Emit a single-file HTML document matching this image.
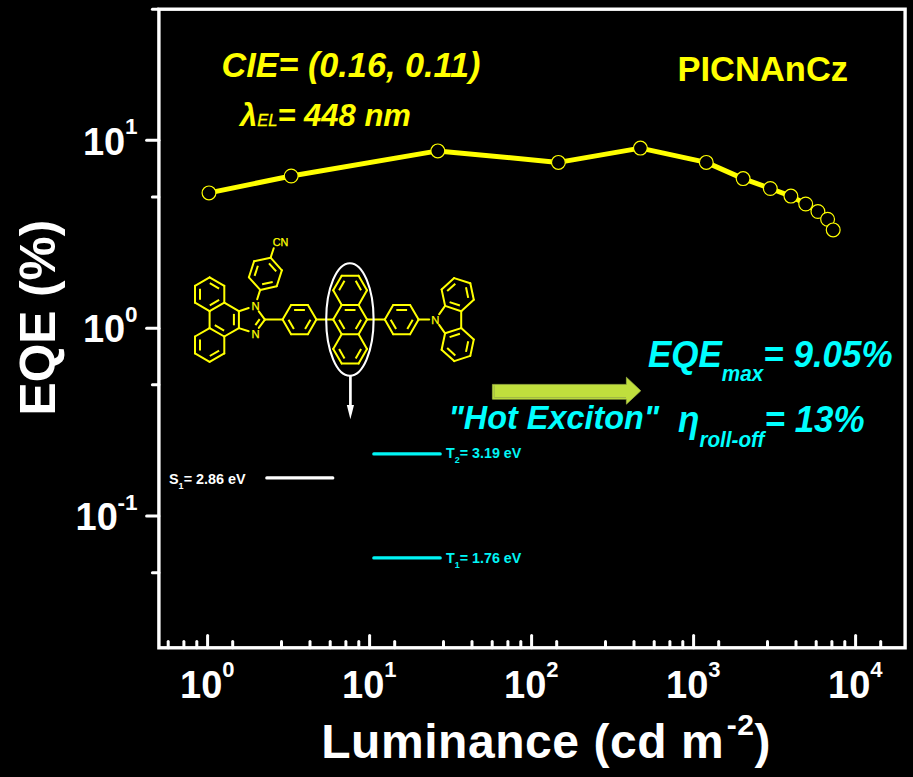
<!DOCTYPE html>
<html><head><meta charset="utf-8"><title>EQE vs Luminance</title>
<style>
html,body{margin:0;padding:0;background:#000;}
body{width:913px;height:777px;overflow:hidden;}
svg{display:block;font-family:"Liberation Sans",Arial,sans-serif;font-weight:bold;}
</style></head><body>
<svg width="913" height="777" viewBox="0 0 913 777">
<rect width="913" height="777" fill="#000"/>
<g stroke="#fff" stroke-width="3.4" fill="none" stroke-linecap="butt">
<rect x="158.9" y="9.2" width="746.2" height="638.5999999999999"/>
</g>
<g stroke="#fff" stroke-width="3" stroke-linecap="round"><line x1="168.2" y1="647.8" x2="168.2" y2="641.4"/><line x1="183.9" y1="647.8" x2="183.9" y2="641.4"/><line x1="196.8" y1="647.8" x2="196.8" y2="641.4"/><line x1="207.6" y1="647.8" x2="207.6" y2="635.4"/><line x1="232.7" y1="647.8" x2="232.7" y2="641.4"/><line x1="281.5" y1="647.8" x2="281.5" y2="641.4"/><line x1="310.0" y1="647.8" x2="310.0" y2="641.4"/><line x1="330.2" y1="647.8" x2="330.2" y2="641.4"/><line x1="345.9" y1="647.8" x2="345.9" y2="641.4"/><line x1="358.8" y1="647.8" x2="358.8" y2="641.4"/><line x1="369.6" y1="647.8" x2="369.6" y2="635.4"/><line x1="394.7" y1="647.8" x2="394.7" y2="641.4"/><line x1="443.5" y1="647.8" x2="443.5" y2="641.4"/><line x1="472.0" y1="647.8" x2="472.0" y2="641.4"/><line x1="492.2" y1="647.8" x2="492.2" y2="641.4"/><line x1="507.9" y1="647.8" x2="507.9" y2="641.4"/><line x1="520.8" y1="647.8" x2="520.8" y2="641.4"/><line x1="531.6" y1="647.8" x2="531.6" y2="635.4"/><line x1="556.7" y1="647.8" x2="556.7" y2="641.4"/><line x1="605.5" y1="647.8" x2="605.5" y2="641.4"/><line x1="634.0" y1="647.8" x2="634.0" y2="641.4"/><line x1="654.2" y1="647.8" x2="654.2" y2="641.4"/><line x1="669.9" y1="647.8" x2="669.9" y2="641.4"/><line x1="682.8" y1="647.8" x2="682.8" y2="641.4"/><line x1="693.6" y1="647.8" x2="693.6" y2="635.4"/><line x1="718.7" y1="647.8" x2="718.7" y2="641.4"/><line x1="767.5" y1="647.8" x2="767.5" y2="641.4"/><line x1="796.0" y1="647.8" x2="796.0" y2="641.4"/><line x1="816.2" y1="647.8" x2="816.2" y2="641.4"/><line x1="831.9" y1="647.8" x2="831.9" y2="641.4"/><line x1="844.8" y1="647.8" x2="844.8" y2="641.4"/><line x1="855.6" y1="647.8" x2="855.6" y2="635.4"/><line x1="880.7" y1="647.8" x2="880.7" y2="641.4"/><line x1="158.9" y1="9.2" x2="152.4" y2="9.2"/><line x1="158.9" y1="140.3" x2="146.6" y2="140.3"/><line x1="158.9" y1="196.9" x2="152.4" y2="196.9"/><line x1="158.9" y1="328.2" x2="146.6" y2="328.2"/><line x1="158.9" y1="384.8" x2="152.4" y2="384.8"/><line x1="158.9" y1="516.1" x2="146.6" y2="516.1"/><line x1="158.9" y1="572.7" x2="152.4" y2="572.7"/></g>
<g fill="#fff"><text x="222.4" y="697.8" font-size="38" text-anchor="end">10</text><text x="222.2" y="677.2" font-size="22">0</text><text x="384.4" y="697.8" font-size="38" text-anchor="end">10</text><text x="384.2" y="677.2" font-size="22">1</text><text x="546.4" y="697.8" font-size="38" text-anchor="end">10</text><text x="546.2" y="677.2" font-size="22">2</text><text x="708.4" y="697.8" font-size="38" text-anchor="end">10</text><text x="708.2" y="677.2" font-size="22">3</text><text x="870.4" y="697.8" font-size="38" text-anchor="end">10</text><text x="870.2" y="677.2" font-size="22">4</text><text x="125.2" y="154.5" font-size="38" text-anchor="end">10</text><text x="125.0" y="134.0" font-size="22.5">1</text><text x="125.2" y="342.4" font-size="38" text-anchor="end">10</text><text x="125.0" y="321.9" font-size="22.5">0</text><text x="117.8" y="530.4" font-size="38" text-anchor="end">10</text><text x="117.6" y="509.8" font-size="22.5">-1</text></g>
<text x="321.2" y="758.4" font-size="48" fill="#fff" letter-spacing="0.55">Luminance (cd m<tspan font-size="30" dy="-23.5" dx="2.5">-2</tspan><tspan dy="23.5" dx="0">)</tspan></text>
<text transform="translate(54.8,317.6) rotate(-90)" font-size="49.6" fill="#fff" text-anchor="middle">EQE (%)</text>
<polyline points="209,192.9 291.2,176 437.8,150.9 558.4,162.4 640.4,148.1 706.3,162.4 743.1,178.6 770.3,188.5 790.9,196.1 805.7,204 817.9,211.5 827.6,219.2 833.2,229.9" fill="none" stroke="#ffff00" stroke-width="5" stroke-linejoin="round"/>
<g fill="#000" stroke="#ffff00" stroke-width="1.2"><circle cx="209" cy="192.9" r="6.9"/><circle cx="291.2" cy="176" r="6.9"/><circle cx="437.8" cy="150.9" r="6.9"/><circle cx="558.4" cy="162.4" r="6.9"/><circle cx="640.4" cy="148.1" r="6.9"/><circle cx="706.3" cy="162.4" r="6.9"/><circle cx="743.1" cy="178.6" r="6.9"/><circle cx="770.3" cy="188.5" r="6.9"/><circle cx="790.9" cy="196.1" r="6.9"/><circle cx="805.7" cy="204" r="6.9"/><circle cx="817.9" cy="211.5" r="6.9"/><circle cx="827.6" cy="219.2" r="6.9"/><circle cx="833.2" cy="229.9" r="6.9"/></g>
<g fill="#ffff00" font-style="italic">
<text x="221.5" y="77" font-size="34.2" transform="matrix(1 0 0 1.035 0 -2.695)">CIE= (0.16, 0.11)</text>
<text x="240" y="126.2" font-size="31" transform="matrix(1 0 0 1.02 0 -2.524)">λ<tspan font-size="16.5" font-weight="normal" stroke="#ffff00" stroke-width="0.3">EL</tspan>= 448 nm</text>
</g>
<text x="677.5" y="80.8" font-size="34.5" fill="#ffff00">PICNAnCz</text>
<g stroke="#ffff00" stroke-width="2" stroke-linecap="round"><line x1="264.9" y1="319.6" x2="258.8" y2="311.3"/><line x1="248.7" y1="308.0" x2="238.9" y2="311.2"/><line x1="238.9" y1="311.2" x2="238.9" y2="328.1"/><line x1="238.9" y1="328.1" x2="248.7" y2="331.2"/><line x1="258.8" y1="327.9" x2="264.9" y2="319.6"/><line x1="238.9" y1="311.2" x2="224.3" y2="302.7"/><line x1="224.3" y1="302.7" x2="209.6" y2="311.2"/><line x1="209.6" y1="311.2" x2="209.6" y2="328.1"/><line x1="209.6" y1="328.1" x2="224.3" y2="336.5"/><line x1="224.3" y1="336.5" x2="238.9" y2="328.1"/><line x1="209.6" y1="277.4" x2="195.0" y2="285.8"/><line x1="195.0" y1="285.8" x2="195.0" y2="302.7"/><line x1="195.0" y1="302.7" x2="209.6" y2="311.2"/><line x1="224.3" y1="302.7" x2="224.3" y2="285.8"/><line x1="224.3" y1="285.8" x2="209.6" y2="277.4"/><line x1="209.6" y1="328.1" x2="195.0" y2="336.5"/><line x1="195.0" y1="336.5" x2="195.0" y2="353.4"/><line x1="195.0" y1="353.4" x2="209.6" y2="361.8"/><line x1="209.6" y1="361.8" x2="224.3" y2="353.4"/><line x1="224.3" y1="353.4" x2="224.3" y2="336.5"/><line x1="257.2" y1="299.2" x2="260.2" y2="289.9"/><line x1="260.2" y1="289.9" x2="276.7" y2="286.3"/><line x1="276.7" y1="286.3" x2="281.9" y2="270.3"/><line x1="281.9" y1="270.3" x2="270.6" y2="257.7"/><line x1="270.6" y1="257.7" x2="254.1" y2="261.2"/><line x1="254.1" y1="261.2" x2="248.9" y2="277.3"/><line x1="248.9" y1="277.3" x2="260.2" y2="289.9"/><line x1="270.6" y1="257.7" x2="273.7" y2="248.3"/><line x1="316.4" y1="319.6" x2="307.9" y2="305.0"/><line x1="307.9" y1="305.0" x2="291.1" y2="305.0"/><line x1="291.1" y1="305.0" x2="282.6" y2="319.6"/><line x1="282.6" y1="319.6" x2="291.1" y2="334.2"/><line x1="291.1" y1="334.2" x2="307.9" y2="334.2"/><line x1="307.9" y1="334.2" x2="316.4" y2="319.6"/><line x1="264.9" y1="319.6" x2="282.6" y2="319.6"/><line x1="367.0" y1="319.6" x2="358.6" y2="305.0"/><line x1="358.6" y1="305.0" x2="341.7" y2="305.0"/><line x1="341.7" y1="305.0" x2="333.2" y2="319.6"/><line x1="333.2" y1="319.6" x2="341.7" y2="334.2"/><line x1="341.7" y1="334.2" x2="358.6" y2="334.2"/><line x1="358.6" y1="334.2" x2="367.0" y2="319.6"/><line x1="316.4" y1="319.6" x2="333.2" y2="319.6"/><line x1="367.0" y1="290.3" x2="358.6" y2="275.7"/><line x1="358.6" y1="275.7" x2="341.7" y2="275.7"/><line x1="341.7" y1="275.7" x2="333.2" y2="290.3"/><line x1="333.2" y1="290.3" x2="341.7" y2="305.0"/><line x1="358.6" y1="305.0" x2="367.0" y2="290.3"/><line x1="367.0" y1="348.9" x2="358.6" y2="334.2"/><line x1="341.7" y1="334.2" x2="333.2" y2="348.9"/><line x1="333.2" y1="348.9" x2="341.7" y2="363.5"/><line x1="341.7" y1="363.5" x2="358.6" y2="363.5"/><line x1="358.6" y1="363.5" x2="367.0" y2="348.9"/><line x1="418.6" y1="319.6" x2="410.1" y2="305.0"/><line x1="410.1" y1="305.0" x2="393.2" y2="305.0"/><line x1="393.2" y1="305.0" x2="384.8" y2="319.6"/><line x1="384.8" y1="319.6" x2="393.2" y2="334.2"/><line x1="393.2" y1="334.2" x2="410.1" y2="334.2"/><line x1="410.1" y1="334.2" x2="418.6" y2="319.6"/><line x1="367.0" y1="319.6" x2="384.8" y2="319.6"/><line x1="418.6" y1="319.6" x2="429.2" y2="319.6"/><line x1="439.1" y1="324.9" x2="445.1" y2="333.3"/><line x1="445.1" y1="333.3" x2="461.2" y2="328.1"/><line x1="461.2" y1="328.1" x2="461.2" y2="311.2"/><line x1="461.2" y1="311.2" x2="445.1" y2="305.9"/><line x1="445.1" y1="305.9" x2="439.1" y2="314.3"/><line x1="461.2" y1="311.2" x2="473.8" y2="299.8"/><line x1="473.8" y1="299.8" x2="470.3" y2="283.3"/><line x1="470.3" y1="283.3" x2="454.2" y2="278.1"/><line x1="454.2" y1="278.1" x2="441.6" y2="289.4"/><line x1="441.6" y1="289.4" x2="445.1" y2="305.9"/><line x1="461.2" y1="328.1" x2="473.8" y2="339.4"/><line x1="473.8" y1="339.4" x2="470.3" y2="355.9"/><line x1="470.3" y1="355.9" x2="454.2" y2="361.1"/><line x1="454.2" y1="361.1" x2="441.6" y2="349.8"/><line x1="441.6" y1="349.8" x2="445.1" y2="333.3"/></g>
<g stroke="#ffff00" stroke-width="2" stroke-linecap="butt"><line x1="255.4" y1="325.2" x2="259.7" y2="319.2"/><line x1="233.9" y1="325.3" x2="233.9" y2="313.9"/><line x1="200.0" y1="288.8" x2="200.0" y2="299.7"/><line x1="219.1" y1="288.6" x2="209.8" y2="283.2"/><line x1="209.8" y1="305.3" x2="219.1" y2="299.9"/><line x1="200.0" y1="339.5" x2="200.0" y2="350.4"/><line x1="209.8" y1="356.0" x2="219.1" y2="350.6"/><line x1="224.1" y1="330.6" x2="214.8" y2="325.2"/><line x1="262.1" y1="284.3" x2="272.7" y2="282.1"/><line x1="276.2" y1="271.4" x2="269.0" y2="263.3"/><line x1="257.9" y1="265.7" x2="254.6" y2="275.9"/><line x1="304.9" y1="310.0" x2="294.1" y2="310.0"/><line x1="288.5" y1="319.7" x2="293.9" y2="329.1"/><line x1="305.1" y1="329.1" x2="310.5" y2="319.7"/><line x1="355.5" y1="310.0" x2="344.7" y2="310.0"/><line x1="339.1" y1="319.7" x2="344.5" y2="329.1"/><line x1="355.7" y1="329.1" x2="361.1" y2="319.7"/><line x1="361.1" y1="290.2" x2="355.7" y2="280.8"/><line x1="344.5" y1="280.8" x2="339.1" y2="290.2"/><line x1="339.1" y1="349.0" x2="344.5" y2="358.4"/><line x1="355.7" y1="358.4" x2="361.1" y2="349.0"/><line x1="407.1" y1="310.0" x2="396.3" y2="310.0"/><line x1="390.7" y1="319.7" x2="396.1" y2="329.1"/><line x1="407.3" y1="329.1" x2="412.7" y2="319.7"/><line x1="449.6" y1="302.1" x2="459.9" y2="305.5"/><line x1="468.2" y1="297.9" x2="466.0" y2="287.3"/><line x1="455.3" y1="283.8" x2="447.2" y2="291.1"/><line x1="449.6" y1="337.1" x2="459.9" y2="333.7"/><line x1="468.2" y1="341.3" x2="466.0" y2="351.9"/><line x1="455.3" y1="355.4" x2="447.2" y2="348.1"/></g>
<g fill="#ffff00" stroke="#ffff00" stroke-width="0.25" font-weight="normal"><text x="255.6" y="310.2" font-size="11.2" text-anchor="middle">N</text><text x="255.6" y="337.8" font-size="11.2" text-anchor="middle">N</text><text x="435.2" y="323.8" font-size="11.2" text-anchor="middle">N</text><text x="280.5" y="245.8" font-size="10.8" text-anchor="middle">CN</text></g>
<ellipse cx="349.9" cy="319.5" rx="23.7" ry="56.3" fill="none" stroke="#fff" stroke-width="2.1"/>
<line x1="350.4" y1="376" x2="350.4" y2="408" stroke="#fff" stroke-width="2.7"/>
<polygon points="346.8,405 354,405 350.4,419.2" fill="#fff"/>
<polygon points="492.4,384.4 626.4,384.4 626.4,377.2 640.8,390.8 626.4,404.2 626.4,399.2 492.4,399.2" fill="#c0df3d" stroke="#a0b848" stroke-width="0.7"/><polyline points="494.2,385.5 494.2,397.5 626,397.5" fill="none" stroke="#9cb546" stroke-width="0.9"/>
<g fill="#00ffff" font-style="italic">
<text x="448.5" y="429.4" font-size="32.4" transform="matrix(1 0 0 1.03 0 -12.882)">"Hot Exciton"</text>
<text x="648" y="367" font-size="35" transform="matrix(1 0 0 1.04 0 -14.680)">EQE<tspan font-size="20.7" dy="13.5">max</tspan><tspan dy="-13.5">= 9.05%</tspan></text>
<text x="678" y="432" font-size="35" transform="matrix(1 0 0 1.04 0 -17.280)">η<tspan font-size="20.7" dy="14">roll-off</tspan><tspan dy="-14">= 13%</tspan></text>
</g>
<line x1="266.8" y1="477.9" x2="332.8" y2="477.9" stroke="#fff" stroke-width="3.2" stroke-linecap="round"/>
<line x1="373.8" y1="453.9" x2="440.2" y2="453.9" stroke="#00f6f6" stroke-width="3.2" stroke-linecap="round"/>
<line x1="373.8" y1="557.9" x2="440.2" y2="557.9" stroke="#00f6f6" stroke-width="3.2" stroke-linecap="round"/>
<text x="169" y="483.7" font-size="14.4" fill="#fff">S<tspan font-size="9" dy="5">1</tspan><tspan dy="-5">= 2.86 eV</tspan></text>
<text x="446" y="458.2" font-size="14.3" fill="#00f6f6">T<tspan font-size="9" dy="5">2</tspan><tspan dy="-5">= 3.19 eV</tspan></text>
<text x="446" y="563" font-size="14.3" fill="#00f6f6">T<tspan font-size="9" dy="5">1</tspan><tspan dy="-5">= 1.76 eV</tspan></text>
</svg>
</body></html>
